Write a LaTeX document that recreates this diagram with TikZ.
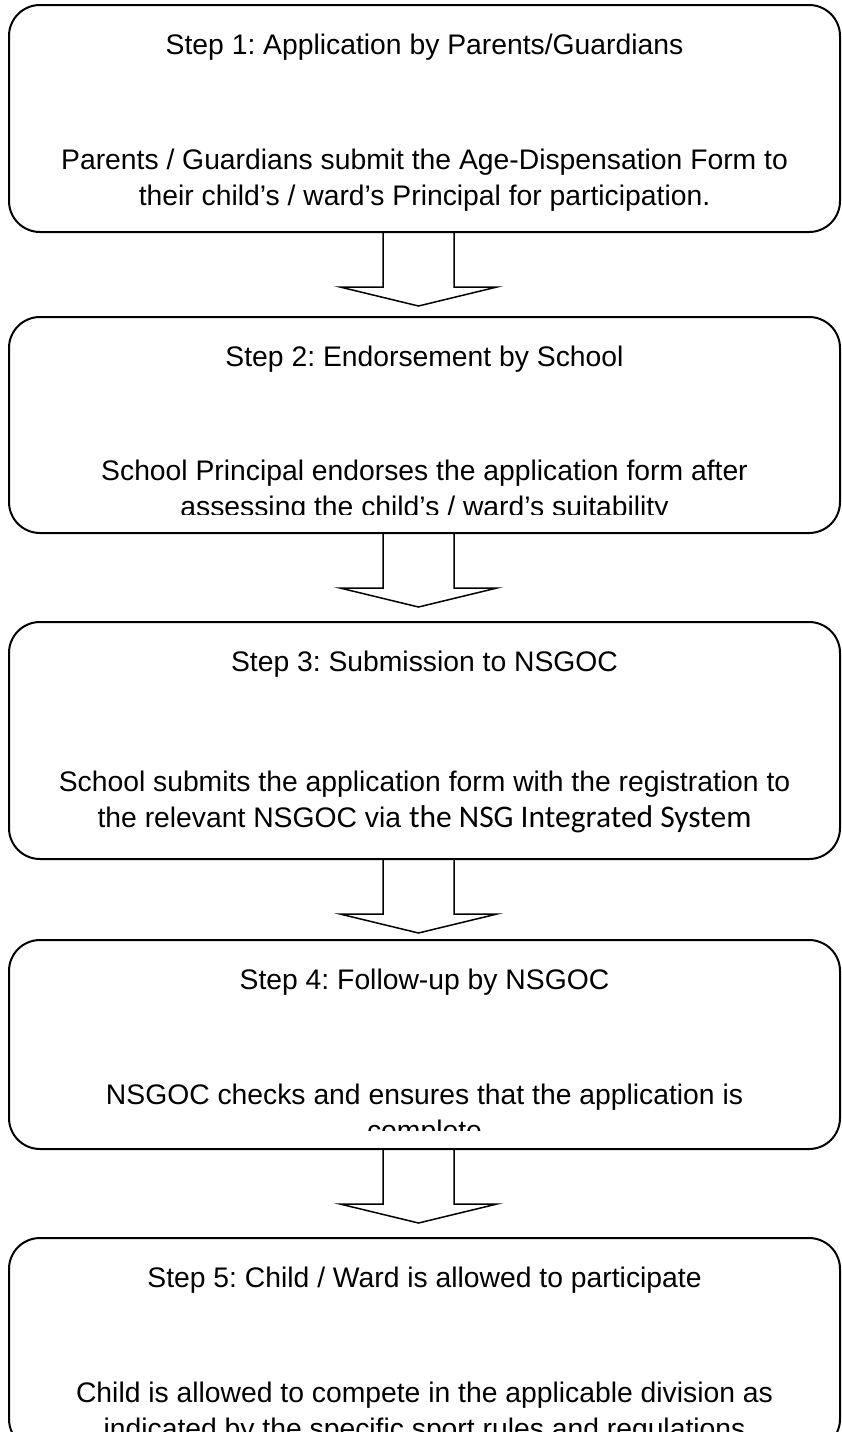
\documentclass[tikz,border=0pt]{standalone}
\usepackage{fontspec}
\setmainfont{Liberation Sans}
\newfontfamily\nsgfont{Carlito}
\frenchspacing
\usetikzlibrary{shapes,arrows}
\tikzset{%
  stepbox/.style   = {draw, line width=2pt, rectangle, rounded corners=31pt,
    minimum width=831pt},
  steptitle/.style = {font=\fontsize{28.3}{36}\selectfont, anchor=base, inner sep=0pt},
  steptext/.style  = {font=\fontsize{28.3}{36}\selectfont, align=center, anchor=base,
    inner sep=0pt}, % base = last line
  blockarrow/.style = {draw, line width=1.5pt, line join=miter}
}

\begin{document}
\begin{tikzpicture}[x=1pt, y=1pt]
\clip (0,0) rectangle (842,-1432);
% boxes
\node[stepbox, minimum height=227pt] (s1) at (424.5,-118.5) {};
\node[stepbox, minimum height=216pt] (s2) at (424.5,-425) {};
\node[stepbox, minimum height=237pt] (s3) at (424.5,-740.5) {};
\node[stepbox, minimum height=209pt] (s4) at (424.5,-1044.5) {};
\node[stepbox, minimum height=212pt] (s5) at (424.5,-1344) {};
% titles
\node[steptitle] (t1) at ([yshift=-50pt]s1.north) {Step 1: Application by Parents/Guardians};
\node[steptitle] (t2) at ([yshift=-50pt]s2.north) {Step 2: Endorsement by School};
\node[steptitle] (t3) at ([yshift=-50pt]s3.north) {Step 3: Submission to NSGOC};
\node[steptitle] (t4) at ([yshift=-50pt]s4.north) {Step 4: Follow-up by NSGOC};
\node[steptitle] (t5) at ([yshift=-50pt]s5.north) {Step 5: Child / Ward is allowed to participate};
% texts
\node[steptext] (d1) at ([yshift=-201pt]s1.north)
  {Parents / Guardians submit the Age-Dispensation Form to\\their child’s / ward’s Principal for participation.};
\begin{scope}
\clip (s2.north west) rectangle ([yshift=-198pt]s2.north east);
\node[steptext] (d2) at ([yshift=-200pt]s2.north)
  {School Principal endorses the application form after\\assessing the child’s / ward’s suitability};
\end{scope}
\node[steptext] (d3) at ([yshift=-206pt]s3.north)
  {School submits the application form with the registration to\\the relevant NSGOC via {\nsgfont\fontsize{31.5}{36}\selectfont the NSG Integrated System}};
\begin{scope}
\clip (s4.north west) rectangle ([yshift=-191pt]s4.north east);
\node[steptext] (d4) at ([yshift=-201pt]s4.north)
  {NSGOC checks and ensures that the application is\\complete};
\end{scope}
\node[steptext] (d5) at ([yshift=-201pt]s5.north)
  {Child is allowed to compete in the applicable division as\\indicated by the specific sport rules and regulations};
% arrows
\draw[blockarrow] ([xshift=-41.5pt]s1.south) -- ++(0,-54) -- ++(-43,0) -- ++(78.5,-19)
  -- ++(78.5,19) -- ++(-43,0) -- ++(0,54);
\draw[blockarrow] ([xshift=-41.5pt]s2.south) -- ++(0,-54) -- ++(-43,0) -- ++(78.5,-19)
  -- ++(78.5,19) -- ++(-43,0) -- ++(0,54);
\draw[blockarrow] ([xshift=-41.5pt]s3.south) -- ++(0,-54) -- ++(-43,0) -- ++(78.5,-19)
  -- ++(78.5,19) -- ++(-43,0) -- ++(0,54);
\draw[blockarrow] ([xshift=-41.5pt]s4.south) -- ++(0,-54) -- ++(-43,0) -- ++(78.5,-19)
  -- ++(78.5,19) -- ++(-43,0) -- ++(0,54);
\end{tikzpicture}
\end{document}
